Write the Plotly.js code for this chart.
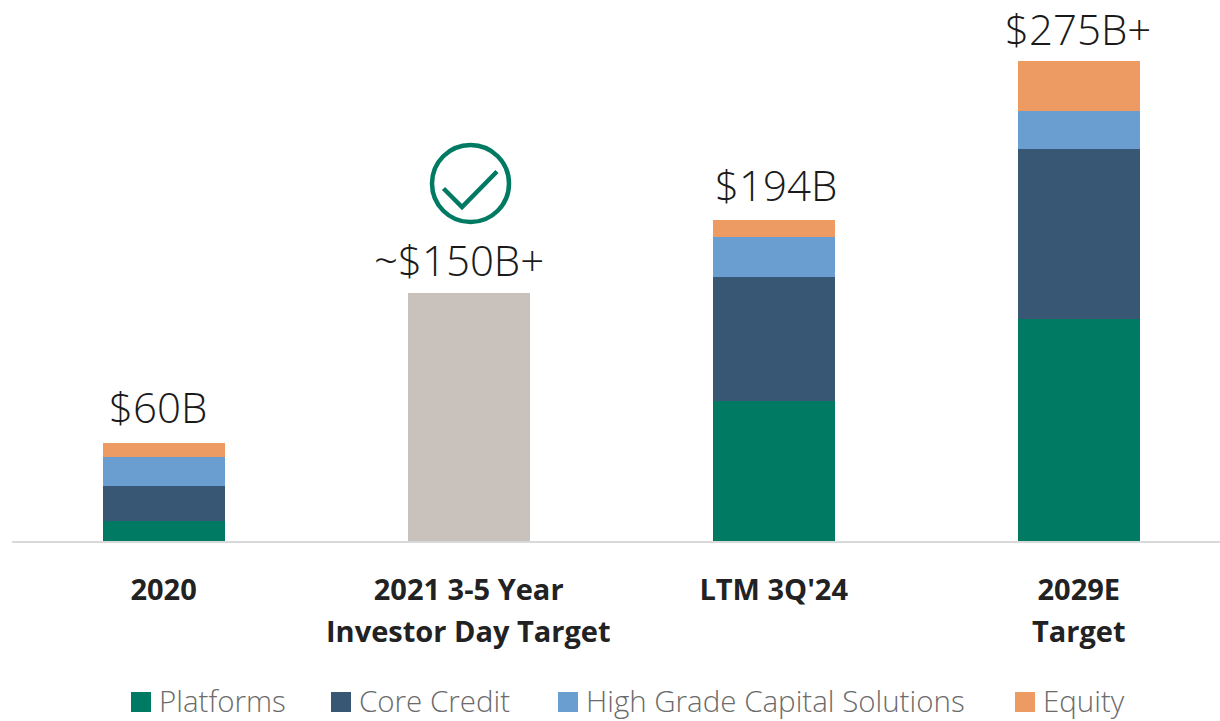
<!DOCTYPE html>
<html><head><meta charset="utf-8">
<script src="https://cdn.plot.ly/plotly-3.0.1.min.js"></script>
<style>html,body{margin:0;padding:0;background:#fff}</style></head>
<body><div id="chart" style="width:1220px;height:721px"></div>
<script>
const categories = ['2020', '2021 3-5 Year', "LTM 3Q'24", '2029E'];
const categoriesLine2 = ['', 'Investor Day Target', '', 'Target'];
const platforms = [11.7, 0, 80.2, 127.2];
const coreCredit = [20, 0, 71, 97.4];
const highGrade = [16.6, 0, 23, 21.8];
const equity = [8, 0, 9.7, 28.7];
const target = [0, 142.1, 0, 0];
const totals = [56.3, 142.1, 183.9, 275];
const totalLabels = ['$60B', '~$150B+', '$194B', '$275B+'];
const labelShiftX = [-6, -10, 2, -1];
const labelShiftY = [6, 3, 5, 2];
const legendNames = ['Platforms', 'Core Credit', 'High Grade Capital Solutions', 'Equity'];
const colors = ['#007A62', '#375775', '#6A9DD0', '#EE9B63'];
const targetColor = '#C9C1BB';

const W = 1220, H = 721, L = 12, B = 180;
const px = x => (x - L) / (W - L);
const py = y => (H - B - y) / (H - B);
const idx = [0, 1, 2, 3];
const seriesVals = [platforms, coreCredit, highGrade, equity];

const traces = seriesVals.map((v, i) => ({
  type: 'bar', name: legendNames[i], x: idx, y: v,
  marker: {color: colors[i], line: {width: 0}}, showlegend: false, hoverinfo: 'y+name'
}));
traces.push({type: 'bar', name: 'Target', x: idx, y: target,
  marker: {color: targetColor, line: {width: 0}}, showlegend: false, hoverinfo: 'y'});

const labelFont = {family: '"Open Sans", sans-serif', size: 42, color: '#1A1A1A', weight: 300};
const annotations = totals.map((t, i) => ({
  x: i, y: t, xref: 'x', yref: 'y', text: totalLabels[i], showarrow: false,
  xanchor: 'center', yanchor: 'bottom', xshift: labelShiftX[i], yshift: labelShiftY[i], font: labelFont
}));

const tickFont = {family: '"Open Sans", sans-serif', size: 29, color: '#222222', weight: 700};
categoriesLine2.forEach((t, i) => {
  if (t) annotations.push({x: i, xref: 'x', y: py(631), yref: 'paper', text: t, showarrow: false,
    xanchor: 'center', yanchor: 'middle', font: tickFont});
});

const legendX = [131, 331, 558, 1015];
const legendFont = {family: '"Open Sans", sans-serif', size: 29.5, color: '#6B6B6B', weight: 300};
const shapes = [];
legendNames.forEach((n, i) => {
  shapes.push({type: 'rect', xref: 'paper', yref: 'paper', x0: px(legendX[i]), x1: px(legendX[i] + 20),
    y0: py(712), y1: py(692), fillcolor: colors[i], line: {width: 0}});
  annotations.push({xref: 'paper', yref: 'paper', x: px(legendX[i] + 26), y: py(700.5), text: n,
    showarrow: false, xanchor: 'left', yanchor: 'middle', font: legendFont});
});
shapes.push({type: 'circle', xref: 'paper', yref: 'paper', x0: px(432), x1: px(509), y0: py(222), y1: py(145),
  line: {color: '#007A62', width: 4.5}, fillcolor: 'rgba(0,0,0,0)'});
shapes.push({type: 'path', xref: 'paper', yref: 'paper',
  path: `M${px(443.5)},${py(188.5)} L${px(462)},${py(207)} L${px(497)},${py(171.5)}`,
  line: {color: '#007A62', width: 4.5}, fillcolor: 'rgba(0,0,0,0)'});

const layout = {
  width: W, height: H, autosize: false, showlegend: false, barmode: 'stack', bargap: 0.6,
  margin: {l: L, r: 0, t: 0, b: B, pad: 0},
  paper_bgcolor: '#fff', plot_bgcolor: '#fff',
  xaxis: {range: [-0.497, 3.463], tickmode: 'array', tickvals: idx, ticktext: categories,
    showline: true, linecolor: '#D9D9D9', linewidth: 2, showgrid: false, zeroline: false,
    ticks: 'outside', ticklen: 22, tickcolor: 'rgba(0,0,0,0)', tickangle: 0,
    tickfont: tickFont},
  yaxis: {range: [0, 310], visible: false, fixedrange: true},
  annotations, shapes
};
Plotly.newPlot('chart', traces, layout, {displayModeBar: false});
</script></body></html>
